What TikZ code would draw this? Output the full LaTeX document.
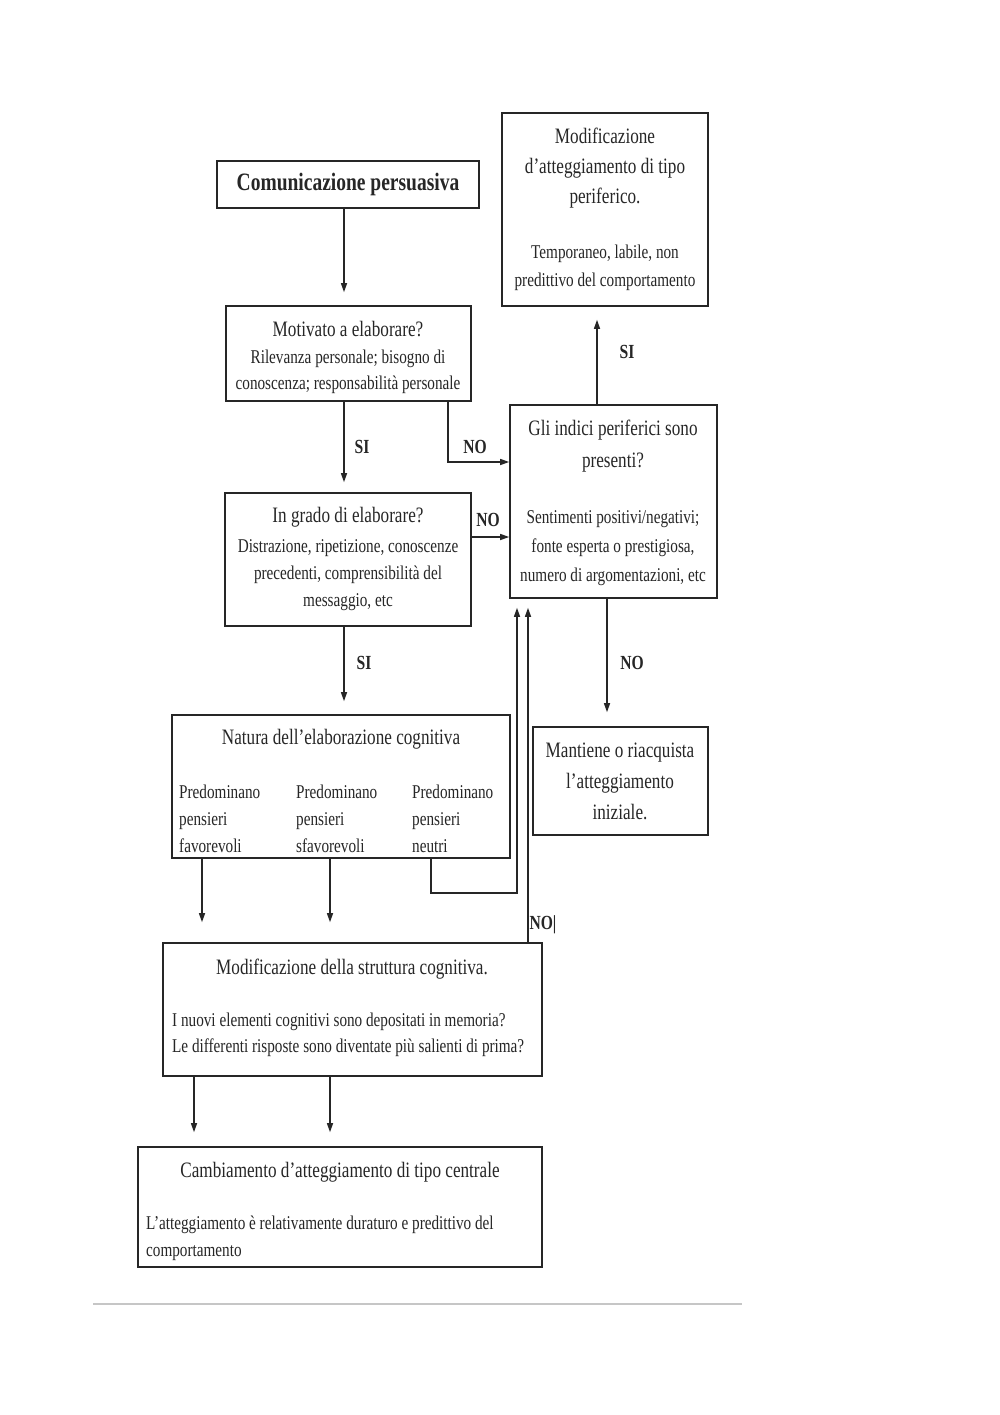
\documentclass[tikz,border=0pt]{standalone}
\usepackage{fontspec}
\setmainfont{Liberation Serif}[FakeStretch=0.78]
\usetikzlibrary{arrows.meta}
\newcommand{\fTitle}{\fontsize{22}{30}\selectfont}
\newcommand{\fBody}{\fontsize{19.5}{27}\selectfont}
\newcommand{\fLab}{\fontsize{20}{24}\selectfont\bfseries}
\begin{document}
\begin{tikzpicture}[x=1pt,y=-1pt,
  box/.style={draw=black!85, line width=1.6pt, inner sep=0pt, rectangle},
  ttxt/.style={inner sep=0pt, align=center, font=\fTitle, text=black!85},
  btxt/.style={inner sep=0pt, align=center, font=\fBody, text=black!85},
  ltxt/.style={inner sep=0pt, align=left, font=\fBody, text=black!85},
  lab/.style={inner sep=0pt, font=\fLab, text=black!85},
  arr/.style={draw=black!85, line width=1.3pt, -{Triangle[length=9pt,width=6pt]}},
  ln/.style={draw=black!85, line width=1.3pt}]
\fill[white] (0,0) rectangle (1000,1415);
\useasboundingbox (0,0) rectangle (1000,1415);

% boxes
\node[box, minimum width=262pt, minimum height=47pt, font=\fontsize{25}{30}\selectfont\bfseries, text=black!85] (com) at (348,184.5) {Comunicazione persuasiva};
\node[box, minimum width=206pt, minimum height=193pt] (perif) at (605,209.5) {};
\node[box, minimum width=245pt, minimum height=95pt] (mot) at (348.5,353.5) {};
\node[box, minimum width=246pt, minimum height=133pt] (grado) at (348,559.5) {};
\node[box, minimum width=207pt, minimum height=193pt] (gli) at (613.5,501.5) {};
\node[box, minimum width=175pt, minimum height=108pt] (mant) at (620.5,781) {};
\node[box, minimum width=338pt, minimum height=143pt] (nat) at (341,786.5) {};
\node[box, minimum width=379pt, minimum height=133pt] (str) at (352.5,1009.5) {};
\node[box, minimum width=404pt, minimum height=120pt] (camb) at (340,1207) {};

% texts
\node[ttxt] (perifT) at (605,168) {Modificazione\\d’atteggiamento di tipo\\periferico.};
\node[btxt, font=\fontsize{19.5}{28}\selectfont] (perifB) at (605,268) {Temporaneo, labile, non\\predittivo del comportamento};
\node[ttxt] (motT) at (348,329) {Motivato a elaborare?};
\node[btxt, font=\fontsize{19.5}{26}\selectfont] (motB) at (348,372) {Rilevanza personale; bisogno di\\conoscenza; responsabilità personale};
\node[ttxt] (gradoT) at (348,517) {In grado di elaborare?};
\node[btxt] (gradoB) at (348,575) {Distrazione, ripetizione, conoscenze\\precedenti, comprensibilità del\\messaggio, etc};
\node[ttxt, font=\fontsize{22}{32}\selectfont] (gliT) at (613,446) {Gli indici periferici sono\\presenti?};
\node[btxt, font=\fontsize{19.5}{29}\selectfont] (gliB) at (613,548) {Sentimenti positivi/negativi;\\fonte esperta o prestigiosa,\\numero di argomentazioni, etc};
\node[ttxt, font=\fontsize{22}{31}\selectfont] (mantT) at (620,781) {Mantiene o riacquista\\l’atteggiamento\\iniziale.};
\node[ttxt] (natT) at (341,739) {Natura dell’elaborazione cognitiva};
\node[ltxt, anchor=west] (nat1) at (179,819) {Predominano\\pensieri\\favorevoli};
\node[ltxt, anchor=west] (nat2) at (296,819) {Predominano\\pensieri\\sfavorevoli};
\node[ltxt, anchor=west] (nat3) at (412,819) {Predominano\\pensieri\\neutri};
\node[ttxt] (strT) at (352,969) {Modificazione della struttura cognitiva.};
\node[ltxt, font=\fontsize{19.5}{26}\selectfont, anchor=west] (strB) at (172,1035) {I nuovi elementi cognitivi sono depositati in memoria?\\Le differenti risposte sono diventate più salienti di prima?};
\node[ttxt] (cambT) at (340,1172) {Cambiamento d’atteggiamento di tipo centrale};
\node[ltxt, anchor=west] (cambB) at (146,1238) {L’atteggiamento è relativamente duraturo e predittivo del\\comportamento};

% connectors
\draw[arr, shorten >=13pt] (com.south -| 344,0) -- (mot.north -| 344,0);
\draw[arr, shorten >=10pt] (mot.south -| 344,0) -- (grado.north -| 344,0);
\draw[arr] (mot.south -| 448,0) |- (gli.west |- 0,462);
\draw[arr] (grado.east |- 0,537) -- (gli.west |- 0,537);
\draw[arr, shorten >=13pt] (gli.north -| 597,0) -- (perif.south -| 597,0);
\draw[arr, shorten >=14pt] (gli.south -| 607,0) -- (mant.north -| 607,0);
\draw[arr, shorten >=13pt] (grado.south -| 344,0) -- (nat.north -| 344,0);
\draw[arr, shorten >=9pt] (nat.south -| 431,0) |- (517,893) -- (gli.south -| 517,0);
\draw[arr, shorten >=9pt] (str.north -| 528,0) -- (gli.south -| 528,0);
\draw[arr, shorten >=20pt] (nat.south -| 202,0) -- (str.north -| 202,0);
\draw[arr, shorten >=20pt] (nat.south -| 330,0) -- (str.north -| 330,0);
\draw[arr, shorten >=14pt] (str.south -| 194,0) -- (camb.north -| 194,0);
\draw[arr, shorten >=14pt] (str.south -| 330,0) -- (camb.north -| 330,0);

% labels
\node[lab] (l1) at (362,447) {SI};
\node[lab] (l2) at (475,447) {NO};
\node[lab] (l3) at (488,520) {NO};
\node[lab] (l4) at (627,352) {SI};
\node[lab] (l5) at (632,663) {NO};
\node[lab] (l6) at (364,663) {SI};
\node[lab, font=\fontsize{20}{24}\selectfont\bfseries] (l7) at (543,925) {NO|};

% bottom rule
\draw[gray!45, line width=2pt] (93,1304) -- (742,1304);
\end{tikzpicture}
\end{document}
